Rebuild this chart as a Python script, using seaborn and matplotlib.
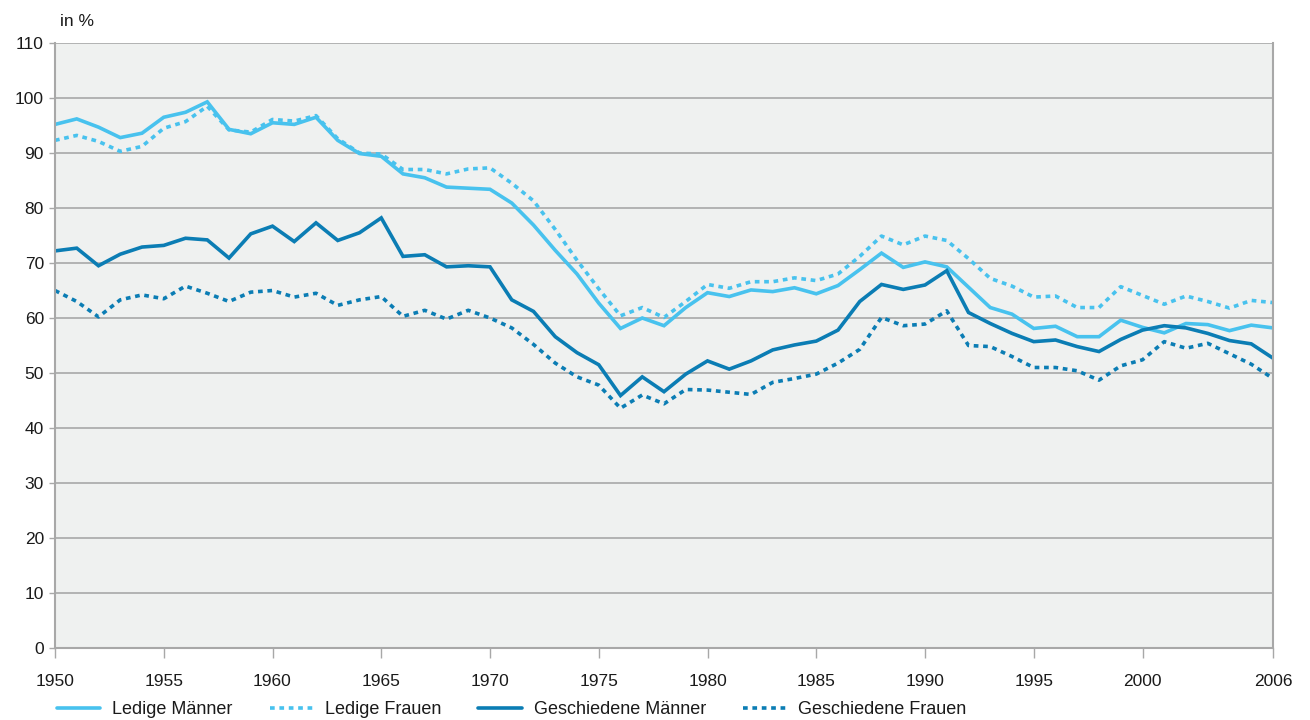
import numpy as np
import pandas as pd
import matplotlib
matplotlib.use("Agg")
import matplotlib.pyplot as plt
import seaborn as sns

years = list(range(1950, 2007))

ledige_maenner = [95.2, 96.2, 94.7, 92.8, 93.6, 96.5, 97.4, 99.3, 94.3, 93.5,
                  95.5, 95.2, 96.5, 92.3, 89.9, 89.4, 86.2, 85.5, 83.8, 83.6,
                  83.4, 80.9, 76.9, 72.3, 68.0, 62.7, 58.1, 60.0, 58.6, 61.9,
                  64.6, 63.9, 65.1, 64.8, 65.5, 64.4, 65.9, 68.8, 71.8, 69.2,
                  70.2, 69.3, 65.6, 61.9, 60.7, 58.1, 58.5, 56.6, 56.6, 59.6,
                  58.3, 57.3, 59.0, 58.8, 57.7, 58.7, 58.2]

ledige_frauen = [92.3, 93.2, 92.1, 90.3, 91.2, 94.5, 95.7, 98.5, 94.2, 93.8,
                 96.1, 95.8, 96.8, 92.6, 90.0, 89.8, 87.0, 87.0, 86.2, 87.1,
                 87.3, 84.5, 81.3, 76.1, 70.5, 65.3, 60.4, 61.9, 60.1, 63.0,
                 66.1, 65.4, 66.6, 66.6, 67.3, 66.8, 68.0, 71.2, 74.9, 73.3,
                 74.9, 74.1, 70.8, 67.2, 65.8, 63.8, 64.0, 61.9, 61.9, 65.7,
                 64.1, 62.5, 64.0, 63.0, 61.8, 63.2, 62.8]

geschiedene_maenner = [72.2, 72.7, 69.5, 71.6, 72.9, 73.2, 74.5, 74.2, 70.9, 75.3,
                       76.7, 73.9, 77.3, 74.1, 75.5, 78.2, 71.2, 71.5, 69.3, 69.5,
                       69.3, 63.3, 61.2, 56.6, 53.7, 51.5, 45.9, 49.3, 46.6, 49.8,
                       52.2, 50.7, 52.2, 54.2, 55.1, 55.8, 57.8, 63.0, 66.1, 65.2,
                       66.0, 68.6, 61.0, 59.0, 57.2, 55.7, 56.0, 54.8, 53.9, 56.1,
                       57.8, 58.6, 58.2, 57.2, 55.9, 55.3, 52.7]

geschiedene_frauen = [65.0, 63.0, 60.2, 63.3, 64.2, 63.5, 65.8, 64.5, 63.0, 64.7,
                      65.0, 63.8, 64.5, 62.3, 63.3, 63.9, 60.3, 61.4, 59.8, 61.4,
                      60.0, 58.2, 55.2, 51.8, 49.3, 47.8, 43.6, 46.0, 44.4, 47.0,
                      46.9, 46.5, 46.1, 48.3, 49.0, 49.8, 51.8, 54.3, 60.1, 58.6,
                      58.9, 61.3, 55.0, 54.8, 53.0, 51.0, 51.0, 50.4, 48.7, 51.3,
                      52.4, 55.7, 54.5, 55.4, 53.5, 51.6, 49.0]

series_names = ["Ledige Männer", "Ledige Frauen", "Geschiedene Männer", "Geschiedene Frauen"]
x_ticks = [1950, 1955, 1960, 1965, 1970, 1975, 1980, 1985, 1990, 1995, 2000, 2006]
y_ticks = list(range(0, 111, 10))

light = "#48C2EE"
dark = "#0B7DB4"

sns.set_theme(style="white")
plt.rcParams['font.family'] = ['Liberation Sans', 'DejaVu Sans']

fig = plt.figure(figsize=(13.1, 7.2), dpi=100)
ax = fig.add_axes([55/1310, 1 - 648/720, (1273 - 55)/1310, (648 - 43)/720])
ax.set_facecolor("#EFF1F0")

data = [ledige_maenner, ledige_frauen, geschiedene_maenner, geschiedene_frauen]
colors = [light, light, dark, dark]
dotted = [False, True, False, True]

for name, vals, c, d in zip(series_names, data, colors, dotted):
    df = pd.DataFrame({"Jahr": years, "Wert": vals})
    line_kw = dict(color=c, linewidth=2.6, label=name)
    if d:
        line_kw["dashes"] = (1.3, 1.3)
    else:
        line_kw["solid_joinstyle"] = "miter"
    sns.lineplot(data=df, x="Jahr", y="Wert", ax=ax, **line_kw)
    if d:
        ax.lines[-1].set_dash_capstyle("butt")

ax.set_xlim(1950, 2006)
ax.set_ylim(0, 110)
ax.set_xticks(x_ticks)
ax.set_yticks(y_ticks)
ax.set_xlabel("")
ax.set_ylabel("")
ax.grid(axis="y", color="#A8A8A8", linewidth=1.2)
ax.set_axisbelow(True)
for s in ["left", "bottom", "right"]:
    ax.spines[s].set_color("#A8A8A8")
    ax.spines[s].set_linewidth(1.5)
ax.spines["top"].set_visible(False)
ax.tick_params(axis="x", direction="out", length=7, width=1, color="#A8A8A8",
               labelsize=12.5, pad=12, labelcolor="#1a1a1a")
ax.tick_params(axis="y", direction="out", length=4, width=1, color="#A8A8A8",
               labelsize=12.5, pad=4, labelcolor="#1a1a1a")
ax.tick_params(left=True, bottom=True)

fig.text(60/1310, 1 - 22/720, "in %", fontsize=12.5, va="center", ha="left", color="#1a1a1a")

handles, labels = ax.get_legend_handles_labels()
if ax.get_legend():
    ax.get_legend().remove()
leg = fig.legend(handles, labels, loc="center left",
                 bbox_to_anchor=(57/1310, 1 - 710/720), bbox_transform=fig.transFigure,
                 ncol=4, frameon=False, fontsize=13, handlelength=2.4,
                 columnspacing=2.05, handletextpad=0.66, borderpad=0, borderaxespad=0)
for t in leg.get_texts():
    t.set_color("#1a1a1a")

fig.savefig("out.png", dpi=100)
